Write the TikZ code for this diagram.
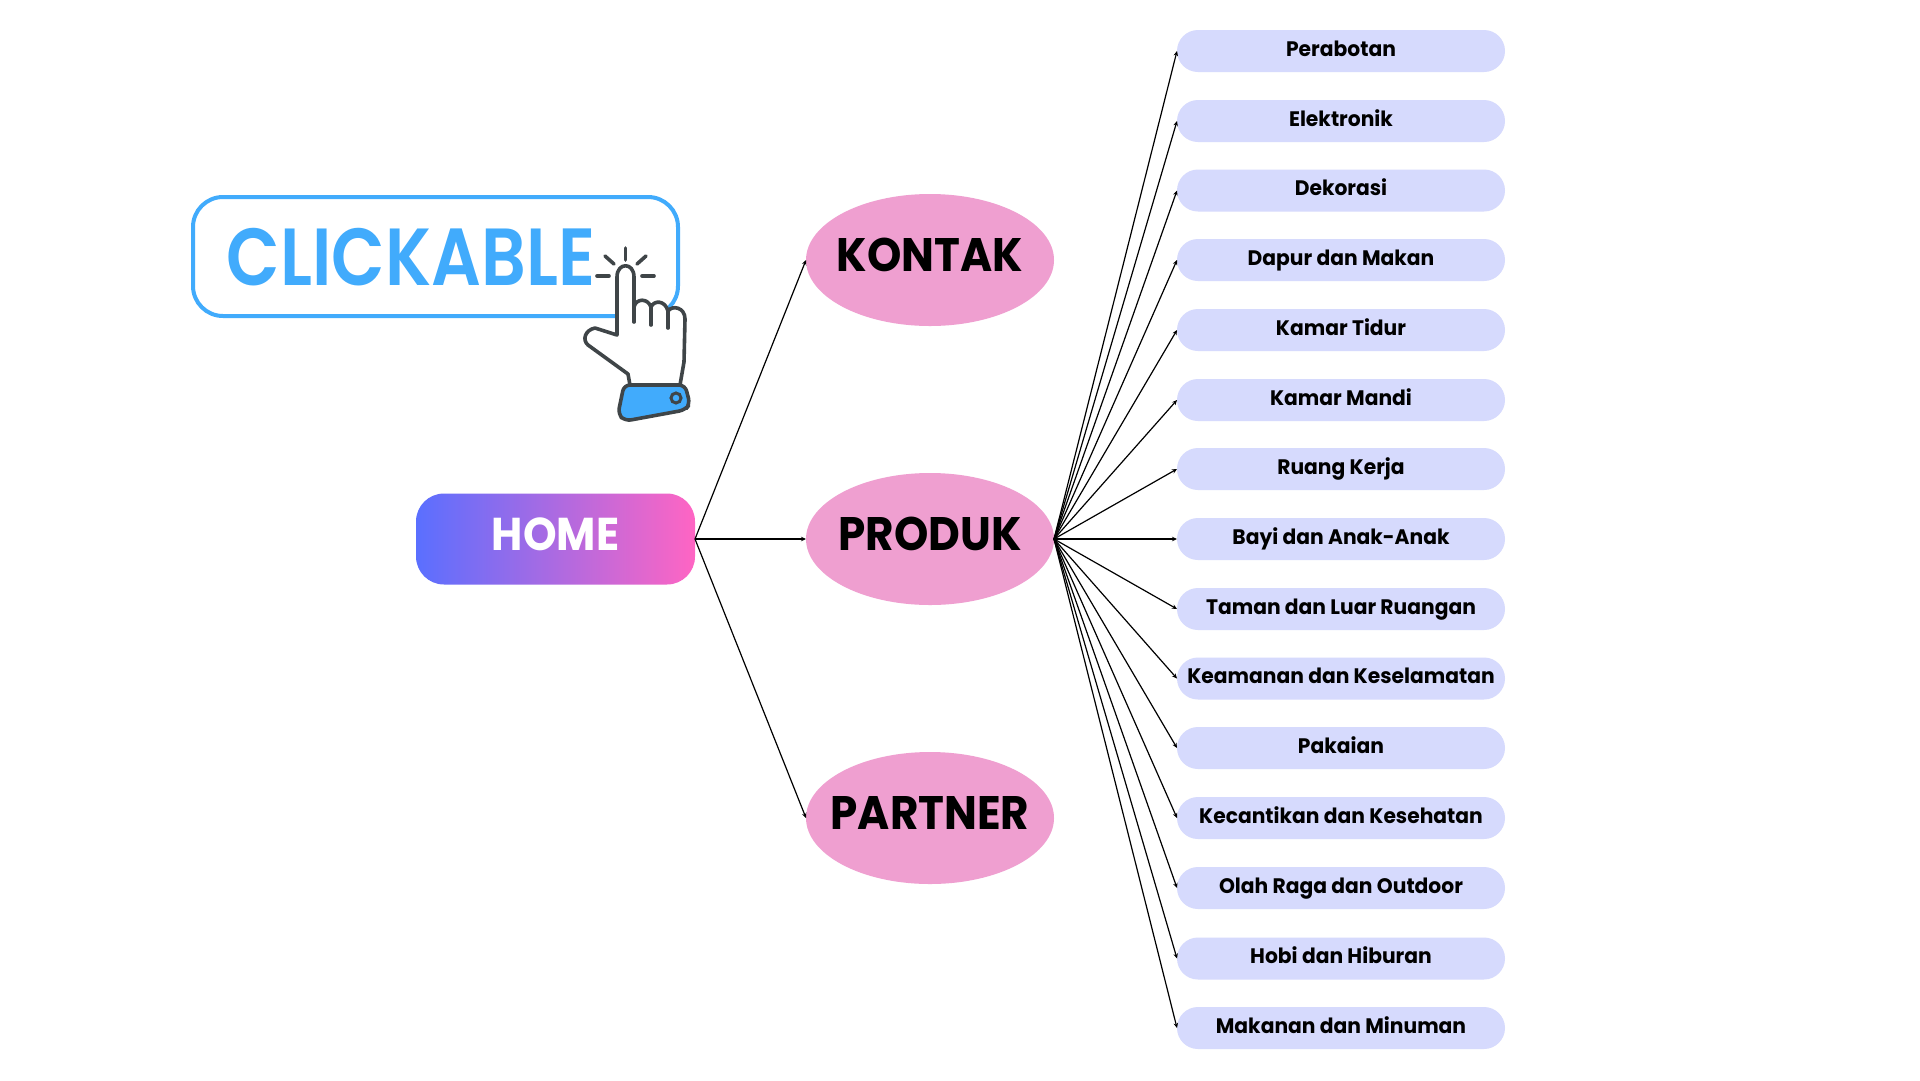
\documentclass[tikz,border=0pt]{standalone}
\usepackage{fontspec}
\usetikzlibrary{arrows.meta,shapes.geometric}
\setmainfont{Poppins}
\newfontfamily\clickfont[FakeStretch=0.86]{Poppins SemiBold}
\newfontfamily\ovalfont[FakeStretch=0.93]{Poppins Bold}
\newfontfamily\pillfont[FakeStretch=0.965]{Poppins Bold}
\definecolor{skyblue}{HTML}{41ABFC}
\definecolor{inkgrey}{HTML}{3F4548}
\definecolor{pinkfill}{HTML}{EF9FD0}
\definecolor{pillfill}{HTML}{D6DAFD}
\definecolor{homeleft}{HTML}{5A6FFF}
\definecolor{homeright}{HTML}{FF65C3}
\newcommand{\ovaltext}[1]{\makebox[0pt][c]{#1}}
\tikzset{
  x=1pt,y=-1pt,
  oval/.style={draw=none,fill=pinkfill,ellipse,minimum width=248pt,minimum height=132pt,inner sep=0pt,outer sep=0pt,text height=30pt,text depth=8pt,font=\fontsize{47}{47}\ovalfont,text=black},
  pill/.style={draw=none,fill=pillfill,rounded corners=21pt,minimum width=328pt,minimum height=42pt,inner sep=0pt,outer sep=0pt,text height=15pt,text depth=5pt,font=\fontsize{21}{21}\pillfont,text=black},
  link/.style={draw=black,line width=1.2pt,-{Stealth[length=5pt,width=4.5pt]}},
  ray/.style={draw=inkgrey,line width=3.6pt,line cap=round},
  handline/.style={draw=inkgrey,line width=3.6pt,line join=round,line cap=round}
}
\begin{document}
\begin{tikzpicture}
\useasboundingbox[fill=white] (0,0) rectangle (1920,1080);

% Button with its caption
\draw[draw=skyblue,line width=4pt,rounded corners=30pt] (193,197) rectangle (678,316);
\node[inner sep=0pt,text=skyblue,font=\fontsize{81}{81}\clickfont] (click) at (411,257) {CLICKABLE};

% Main hierarchy
\node[left color=homeleft,right color=homeright,rounded corners=28pt,minimum width=279pt,minimum height=91pt,inner sep=0pt,outer sep=0pt,text height=30pt,text depth=8pt,text=white,font=\fontsize{46}{46}\ovalfont] (home) at (555.5,539) {HOME};
\node[oval] (kontak) at (930,260) {\ovaltext{KONTAK}};
\node[oval] (produk) at (930,539) {\ovaltext{PRODUK}};
\node[oval] (partner) at (930,818) {\ovaltext{PARTNER}};

\node[pill] (p1) at (1341,51) {Perabotan};
\node[pill] (p2) at (1341,121) {Elektronik};
\node[pill] (p3) at (1341,190.5) {Dekorasi};
\node[pill] (p4) at (1341,260) {Dapur dan Makan};
\node[pill] (p5) at (1341,330) {Kamar Tidur};
\node[pill] (p6) at (1341,400) {Kamar Mandi};
\node[pill] (p7) at (1341,469) {Ruang Kerja};
\node[pill] (p8) at (1341,539) {Bayi dan Anak-Anak};
\node[pill] (p9) at (1341,609) {Taman dan Luar Ruangan};
\node[pill] (p10) at (1341,678.5) {Keamanan dan Keselamatan};
\node[pill] (p11) at (1341,748) {Pakaian};
\node[pill] (p12) at (1341,818) {Kecantikan dan Kesehatan};
\node[pill] (p13) at (1341,888) {Olah Raga dan Outdoor};
\node[pill] (p14) at (1341,958.5) {Hobi dan Hiburan};
\node[pill] (p15) at (1341,1028) {Makanan dan Minuman};

% Connectors
\draw[link] (home.east) -- (kontak.west);
\draw[link] (home.east) -- (produk.west);
\draw[link] (home.east) -- (partner.west);
\foreach \n in {1,...,15}{\draw[link] (produk.east) -- (p\n.west);}

% Pointing hand
\draw[handline,fill=white] (617,335) -- (617,277) .. controls (617,262) and (634,262) .. (634,277)
  -- (634,307) .. controls (636,298) and (648,298) .. (651,307)
  .. controls (654,300) and (665,300) .. (668,311)
  .. controls (672,305) and (685,307) .. (685,319)
  -- (684,362) -- (680,385) -- (630,385) -- (628,374) -- (588,345)
  .. controls (582,340) and (585,330) .. (595,328) -- cycle;
\draw[handline] (634,307) -- (634,322);
\draw[handline] (651,307) -- (651,325);
\draw[handline] (668,311) -- (668,328);
\draw[handline,fill=skyblue,rounded corners=6pt] (624,385) -- (685,385) -- (690,404) -- (685,410) -- (625,421) -- (618,414) -- cycle;
\draw[draw=inkgrey,line width=3pt,fill=skyblue] (676,398) circle (5pt);
\draw[ray] (597,276) -- (609,276);
\draw[ray] (642,276) -- (654,276);
\draw[ray] (625.5,248) -- (625.5,260);
\draw[ray] (605,256) -- (614,264);
\draw[ray] (646,256) -- (637,264);
\end{tikzpicture}
\end{document}
